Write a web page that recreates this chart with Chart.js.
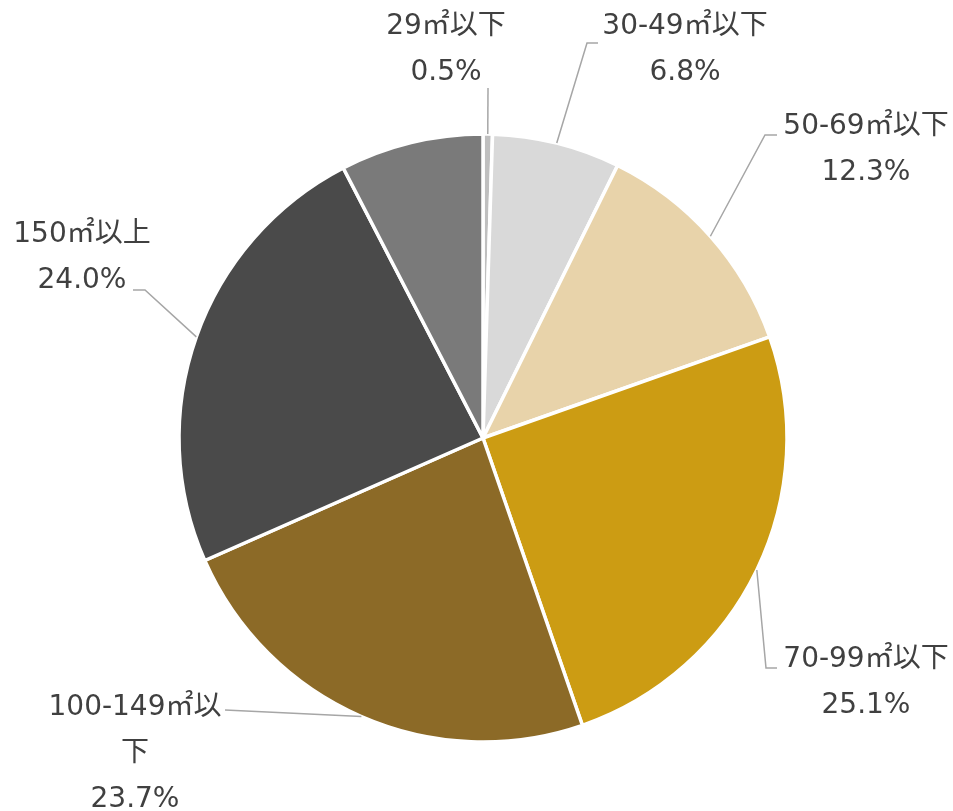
<!DOCTYPE html>
<html lang="ja">
<head>
<meta charset="utf-8">
<title>面積別構成比</title>
<script src="https://cdn.jsdelivr.net/npm/chart.js@4.4.1/dist/chart.umd.min.js"></script>
<style>
    html, body { margin: 0; padding: 0; background: #ffffff; }
    #wrap { width: 953px; height: 811px; }
</style>
</head>
<body>
<div id="wrap"><canvas id="pieChart" width="953" height="811"></canvas></div>
<script>
// Data (clockwise from 12 o'clock)
const categories = ['29㎡以下', '30-49㎡以下', '50-69㎡以下', '70-99㎡以下', '100-149㎡以下', '150㎡以上', '不明'];
const shares = [0.5, 6.8, 12.3, 25.1, 23.7, 24.0, 7.6];
// label text as shown (the last slice has no label in the original)
const labelLines = [
    ['29㎡以下'],
    ['30-49㎡以下'],
    ['50-69㎡以下'],
    ['70-99㎡以下'],
    ['100-149㎡以', '下'],
    ['150㎡以上'],
    null
];
const sliceColors = ['#bfbfbf', '#d9d9d9', '#e8d3aa', '#cc9c13', '#8c6a27', '#4a4a4a', '#7a7a7a'];

// Label layout: text centre x, first line y, and leader bend/end points
const labelLayout = [
    { x: 446, y: 27, path: [[488, 88]] },
    { x: 685, y: 27, path: [[587, 43], [598, 43]] },
    { x: 866, y: 127, path: [[765, 135], [777, 135]] },
    { x: 866, y: 660, path: [[766, 668], [777, 668]] },
    { x: 135, y: 708, path: [[225, 710]] },
    { x: 82, y: 235, path: [[145, 290], [133, 290]] },
    null
];

const FONT = '28px "DejaVu Sans", "Noto Sans CJK JP", sans-serif';
const LINE_GAP = 46;

const pieLabels = {
    id: 'pieLabels',
    afterDraw(chart) {
        const ctx = chart.ctx;
        const arcs = chart.getDatasetMeta(0).data;
        ctx.save();
        arcs.forEach((arc, i) => {
            const lay = labelLayout[i];
            if (!lay) return;
            const p = arc.getProps(['x', 'y', 'startAngle', 'endAngle', 'outerRadius'], true);
            const mid = (p.startAngle + p.endAngle) / 2;
            const sx = p.x + Math.cos(mid) * p.outerRadius;
            const sy = p.y + Math.sin(mid) * p.outerRadius;

            // leader line
            ctx.strokeStyle = '#a6a6a6';
            ctx.lineWidth = 1.5;
            ctx.beginPath();
            ctx.moveTo(sx, sy);
            lay.path.forEach(pt => ctx.lineTo(pt[0], pt[1]));
            ctx.stroke();

            // text
            ctx.fillStyle = '#404040';
            ctx.font = FONT;
            ctx.textAlign = 'center';
            ctx.textBaseline = 'middle';
            const lines = labelLines[i].concat([shares[i].toFixed(1) + '%']);
            lines.forEach((t, k) => ctx.fillText(t, lay.x, lay.y + k * LINE_GAP));
        });
        ctx.restore();
    }
};

new Chart(document.getElementById('pieChart').getContext('2d'), {
    type: 'pie',
    data: {
        labels: categories,
        datasets: [{
            data: shares,
            backgroundColor: sliceColors,
            borderColor: '#ffffff',
            borderWidth: 3.5,
            radius: 304
        }]
    },
    options: {
        responsive: false,
        animation: false,
        layout: {
            padding: { left: 180, right: 167, top: 135, bottom: 70 }
        },
        plugins: {
            legend: { display: false },
            tooltip: { enabled: false }
        }
    },
    plugins: [pieLabels]
});
</script>
</body>
</html>
